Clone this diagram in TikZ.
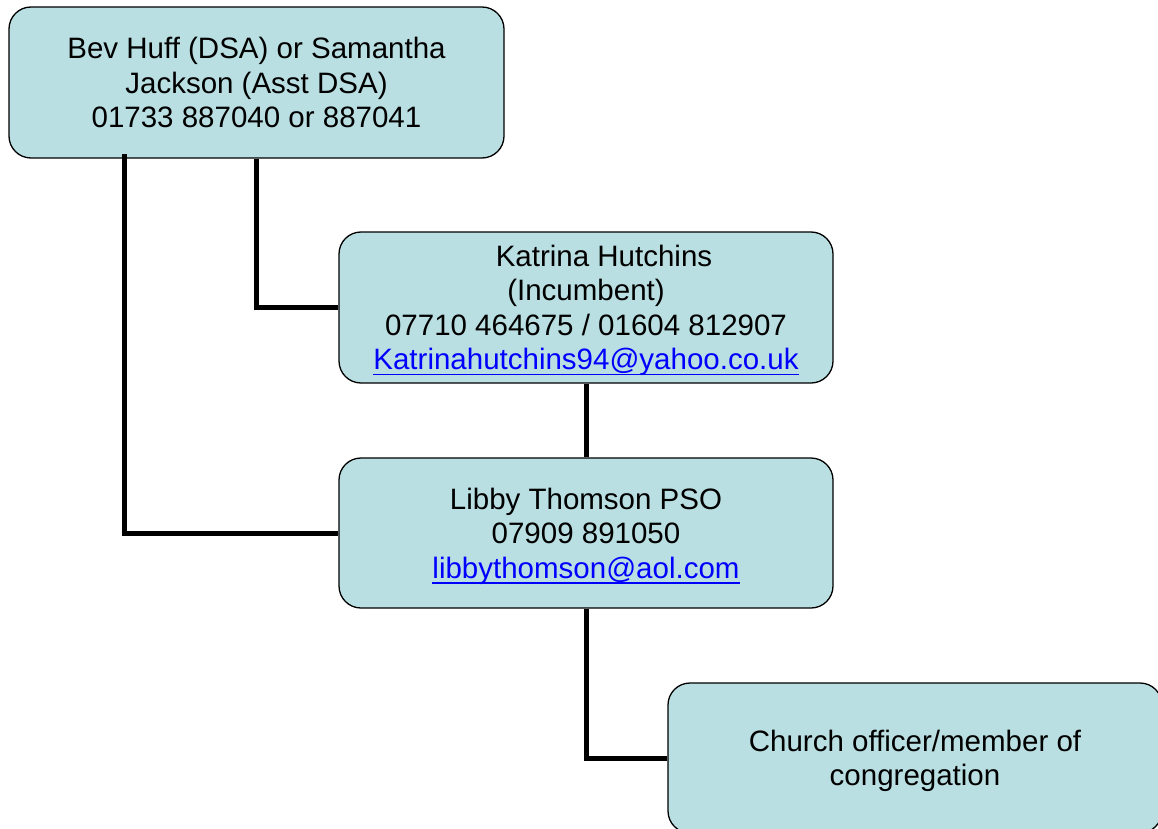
\documentclass[tikz,border=0pt]{standalone}
\usepackage{fontspec}
\setmainfont{Liberation Sans}
\usetikzlibrary{calc}
\definecolor{boxfill}{RGB}{185,223,226}
\definecolor{linkblue}{RGB}{0,0,255}
\newcommand{\maillink}[1]{\textcolor{linkblue}{\setbox0\hbox{#1}\rlap{\rule[-5.5pt]{\wd0}{1.8pt}}\box0}}
\begin{document}
\begin{tikzpicture}[x=1pt,y=-1pt,
  orgbox/.style={draw=black, line width=1.3pt, fill=boxfill, rounded corners=22pt,
    minimum width=494pt, minimum height=150pt, align=center, inner sep=0pt,
    font=\fontsize{29.5}{34.5}\selectfont},
  conn/.style={draw=black, line width=5pt}]
\useasboundingbox (0,0) rectangle (1158,829);
\node[orgbox, minimum width=495pt, minimum height=151pt] (top) at (256.5,82.5)
  {Bev Huff (DSA) or Samantha\\Jackson (Asst DSA)\\01733 887040 or 887041};
\node[orgbox, minimum height=151pt, text depth=-4pt] (kat) at (586,307.5)
  {\hspace*{36pt}Katrina Hutchins\\(Incumbent)\\07710 464675 / 01604 812907\\\maillink{Katrinahutchins94@yahoo.co.uk}};
\node[orgbox, text depth=0pt] (libby) at (586,533)
  {Libby Thomson PSO\\07909 891050\\\maillink{libbythomson@aol.com}};
\node[orgbox, text depth=-2pt] (church) at (915,758)
  {Church officer/member of\\congregation};
\draw[conn] ($(top.south west)+(116,-5)$) |- (libby.west);
\draw[conn] ($(top.south west)+(248,0)$) |- (kat.west);
\draw[conn] (kat.south) -- (libby.north);
\draw[conn] (libby.south) |- (church.west);
\end{tikzpicture}
\end{document}
